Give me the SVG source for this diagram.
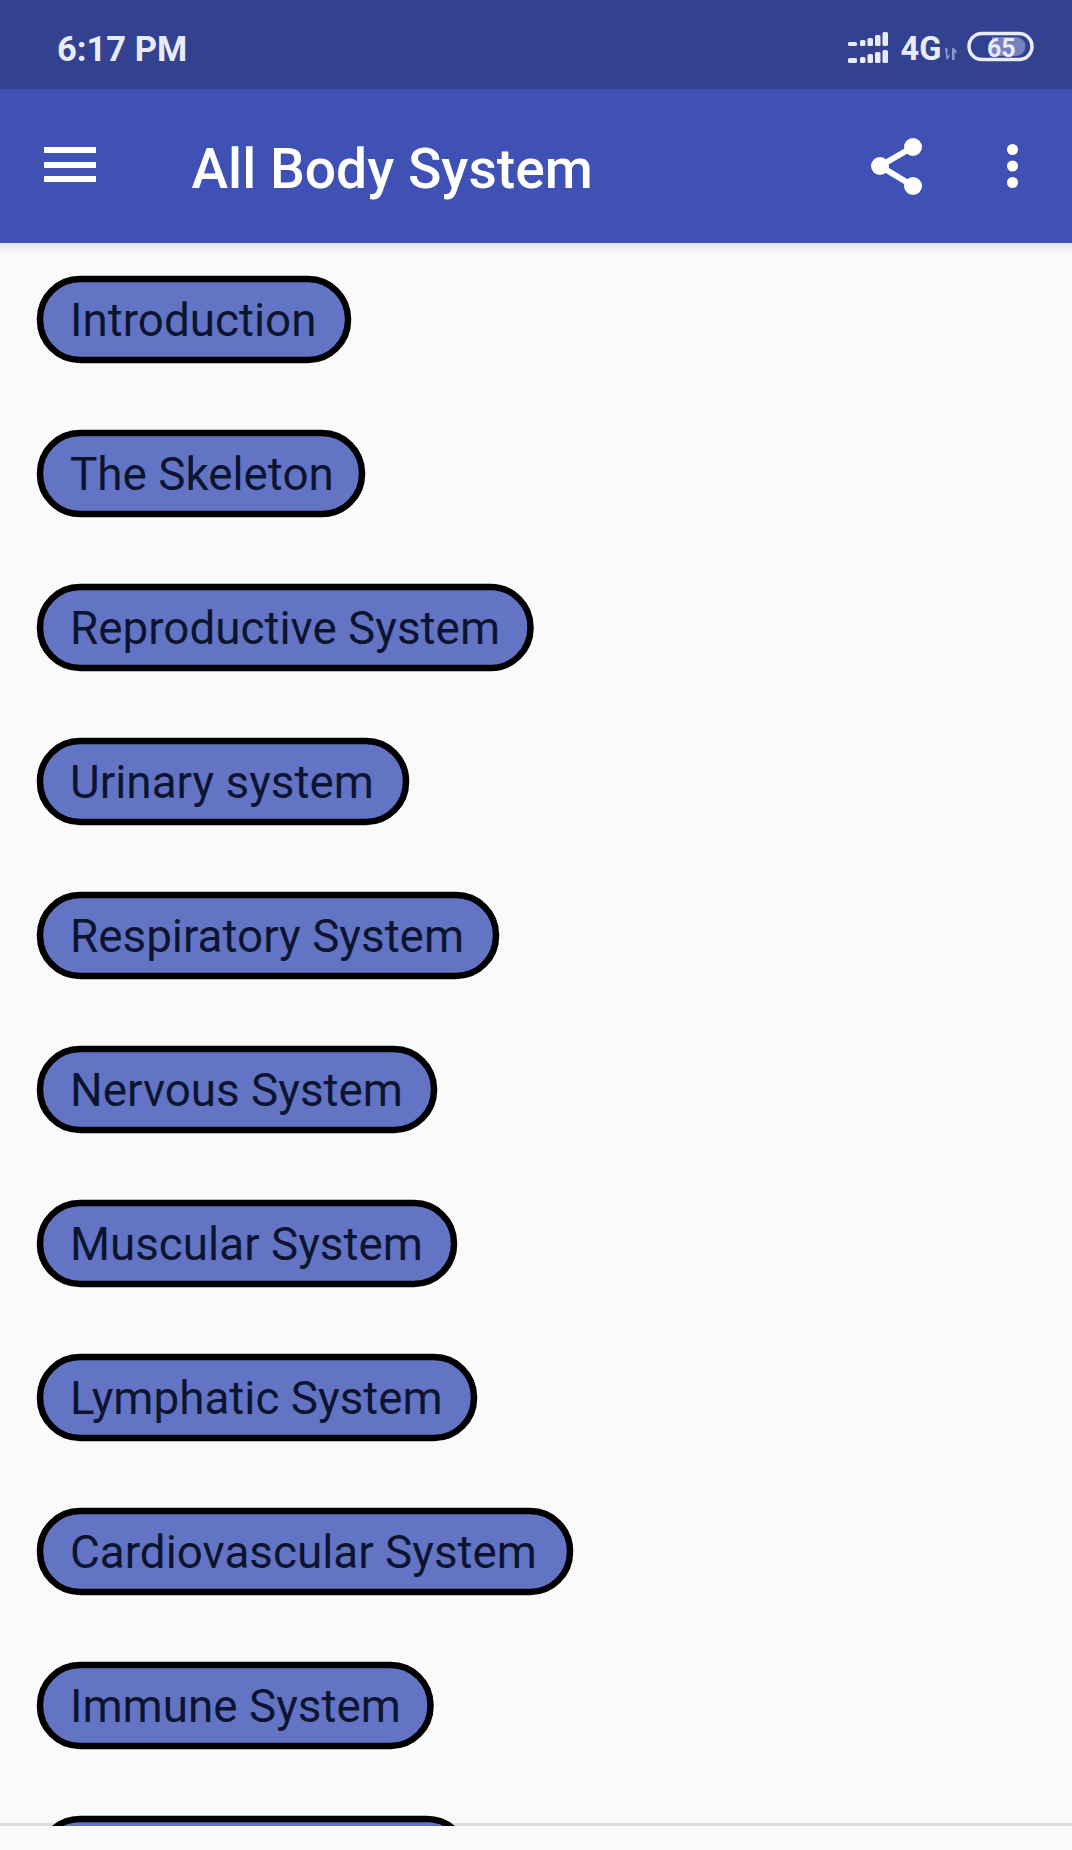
<svg xmlns="http://www.w3.org/2000/svg" width="1072" height="1850" viewBox="0 0 1072 1850">
<defs>
<style>
.pill{fill:#6474c5;stroke:#000;stroke-width:6.5}
.lbl{font-family:Roboto,"Liberation Sans",sans-serif;font-size:45.8px;fill:#0c1430}
.ic{fill:#fff}
.st{font-family:Roboto,"Liberation Sans",sans-serif;font-weight:700;fill:#e9ecf7}
</style>
<linearGradient id="sh" x1="0" y1="0" x2="0" y2="1"><stop offset="0" stop-color="#e4e5e9"/><stop offset="1" stop-color="#fafafa"/></linearGradient>
<clipPath id="list"><rect x="0" y="243" width="1072" height="1583"/></clipPath>
</defs>
<rect width="1072" height="1850" fill="#fafafa"/>
<rect y="243" width="1072" height="12" fill="url(#sh)"/>
<rect y="1823" width="1072" height="3" fill="#dcdcdc"/>
<g clip-path="url(#list)">
<g id="n1"><rect class="pill" x="40" y="279" width="308" height="81" rx="40"/><text class="lbl" x="70" y="336">Introduction</text></g>
<g id="n2"><rect class="pill" x="40" y="433" width="322" height="81" rx="40"/><text class="lbl" x="70" y="490">The Skeleton</text></g>
<g id="n3"><rect class="pill" x="40" y="587" width="490.500" height="81" rx="40"/><text class="lbl" x="70" y="644">Reproductive System</text></g>
<g id="n4"><rect class="pill" x="40" y="741" width="366" height="81" rx="40"/><text class="lbl" x="70" y="798">Urinary system</text></g>
<g id="n5"><rect class="pill" x="40" y="895" width="456" height="81" rx="40"/><text class="lbl" x="70" y="952">Respiratory System</text></g>
<g id="n6"><rect class="pill" x="40" y="1049" width="394" height="81" rx="40"/><text class="lbl" x="70" y="1106">Nervous System</text></g>
<g id="n7"><rect class="pill" x="40" y="1203" width="414" height="81" rx="40"/><text class="lbl" x="70" y="1260">Muscular System</text></g>
<g id="n8"><rect class="pill" x="40" y="1357" width="434" height="81" rx="40"/><text class="lbl" x="70" y="1414">Lymphatic System</text></g>
<g id="n9"><rect class="pill" x="40" y="1511" width="530" height="81" rx="40"/><text class="lbl" x="70" y="1568">Cardiovascular System</text></g>
<g id="n10"><rect class="pill" x="40" y="1665" width="390.500" height="81" rx="40"/><text class="lbl" x="70" y="1722">Immune System</text></g>
<g id="n11"><rect class="pill" x="40" y="1819" width="427" height="81" rx="40"/></g>
</g>
<g id="statusbar">
<rect width="1072" height="89" fill="#334191"/>
<text class="st" x="57" y="60.500" font-size="34.500">6:17 PM</text>
<g fill="#e9ecf7">
<rect x="848" y="42" width="9" height="4" rx="1.500"/><rect x="848" y="58" width="9" height="5" rx="1.500"/>
<rect x="860" y="40" width="5.500" height="6" rx="1.500"/><rect x="860" y="57" width="5.500" height="6" rx="1.500"/>
<rect x="867.500" y="38" width="5.500" height="8" rx="1.500"/><rect x="867.500" y="54" width="5.500" height="9" rx="1.500"/>
<rect x="875" y="35" width="5.500" height="11" rx="1.500"/><rect x="875" y="52" width="5.500" height="11" rx="1.500"/>
<rect x="882.500" y="32" width="5.500" height="14" rx="1.500"/><rect x="882.500" y="50" width="5.500" height="13" rx="1.500"/>
</g>
<text class="st" x="900.500" y="59.500" font-size="32.500">4G</text>
<path d="M945 48h2.500v8l2-2v3l-3 3zM952 60h2.500v-8l2 2v-3l-3-3h-1.500z" fill="#8c97cb"/>
<path d="M992 37H1016a9.500 9.500 0 0 1 0 19H992z" fill="#7482bf"/>
<rect x="969" y="33.500" width="63" height="26" rx="13" fill="none" stroke="#e9ecf7" stroke-width="3.500"/>
<text class="st" x="987" y="57" font-size="25">65</text>
</g>
<g id="appbar">
<rect y="89" width="1072" height="154" fill="#3f51b5"/>
<g class="ic"><rect x="44" y="147" width="52" height="6"/><rect x="44" y="162" width="52" height="6"/><rect x="44" y="176" width="52" height="6"/></g>
<text x="191.500" y="188" font-family="Roboto,'Liberation Sans',sans-serif" font-weight="500" font-size="55.200" fill="#fff">All Body System</text>
<path d="M913 147L880 166L913 186" fill="none" stroke="#fff" stroke-width="6"/>
<g class="ic"><circle cx="913" cy="147" r="9"/><circle cx="880" cy="166" r="9"/><circle cx="913" cy="186" r="9"/>
<circle cx="1012.500" cy="149.500" r="5.500"/><circle cx="1012.500" cy="166" r="5.500"/><circle cx="1012.500" cy="182.500" r="5.500"/></g>
</g>
</svg>
